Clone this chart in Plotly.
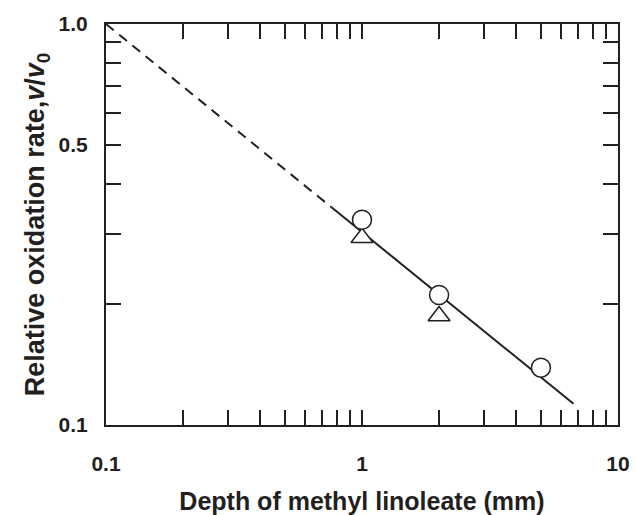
import plotly.graph_objects as go

# Data
circle_x = [1, 2, 5]
circle_y = [0.325, 0.211, 0.139]
triangle_x = [1, 2]
triangle_y = [0.293, 0.187]
dashed_x = [0.1, 0.76]
dashed_y = [1.0, 0.349]
solid_x = [0.76, 6.7]
solid_y = [0.349, 0.113]

x_tickvals = [0.1, 1, 10]
x_ticktext = ["0.1", "1", "10"]
x_minorvals = [0.2, 0.3, 0.4, 0.5, 0.6, 0.7, 0.8, 0.9,
               2, 3, 4, 5, 6, 7, 8, 9]
y_tickvals = [0.1, 0.5, 1.0]
y_ticktext = ["0.1", "0.5", "1.0"]
y_minorvals = [0.2, 0.3, 0.4, 0.6, 0.7, 0.8, 0.9]

INK = "#231f20"
FONT = "Liberation Sans, Arial, sans-serif"

fig = go.Figure()
fig.add_trace(go.Scatter(x=dashed_x, y=dashed_y, mode="lines",
                         line=dict(color=INK, width=2, dash="10px,7px"),
                         showlegend=False, hoverinfo="skip"))
fig.add_trace(go.Scatter(x=solid_x, y=solid_y, mode="lines",
                         line=dict(color=INK, width=2),
                         showlegend=False, hoverinfo="skip"))
fig.add_trace(go.Scatter(x=triangle_x, y=triangle_y, mode="markers",
                         marker=dict(symbol="triangle-up", size=19, color="white",
                                     line=dict(color=INK, width=1.5)),
                         showlegend=False))
fig.add_trace(go.Scatter(x=circle_x, y=circle_y, mode="markers",
                         marker=dict(symbol="circle", size=19, color="white",
                                     line=dict(color=INK, width=1.5)),
                         showlegend=False))

axis_common = dict(
    type="log",
    showgrid=False, zeroline=False, automargin=False,
    showline=True, linecolor=INK, linewidth=2, mirror="ticks",
    ticks="inside", ticklen=15, tickwidth=1.8, tickcolor=INK,
    tickmode="array", tickangle=0,
    tickfont=dict(family=FONT, size=21, color=INK, weight="bold"),
)

fig.update_xaxes(
    **axis_common,
    range=[-1, 1],
    tickvals=x_tickvals, ticktext=x_ticktext,
    minor=dict(tickmode="array", tickvals=x_minorvals, ticks="inside",
               ticklen=15, tickwidth=1.8, tickcolor=INK, showgrid=False),
    ticklabelstandoff=19,
    title=dict(text="Depth of methyl linoleate (mm)",
               font=dict(family=FONT, size=25, color=INK, weight="bold"),
               standoff=33),
)
fig.update_yaxes(
    **axis_common,
    range=[-1, 0],
    tickvals=y_tickvals, ticktext=y_ticktext,
    minor=dict(tickmode="array", tickvals=y_minorvals, ticks="inside",
               ticklen=15, tickwidth=1.8, tickcolor=INK, showgrid=False),
    ticklabelstandoff=12,
    title=dict(text="Relative oxidation rate,<i>v</i>/<i>v</i><sub>0</sub>",
               font=dict(family=FONT, size=27, color=INK, weight="bold"),
               standoff=6),
)

fig.update_layout(
    width=635, height=515,
    margin=dict(l=106, r=17, t=24, b=90),
    paper_bgcolor="white", plot_bgcolor="white",
    showlegend=False,
)

fig.write_html("out.html")
